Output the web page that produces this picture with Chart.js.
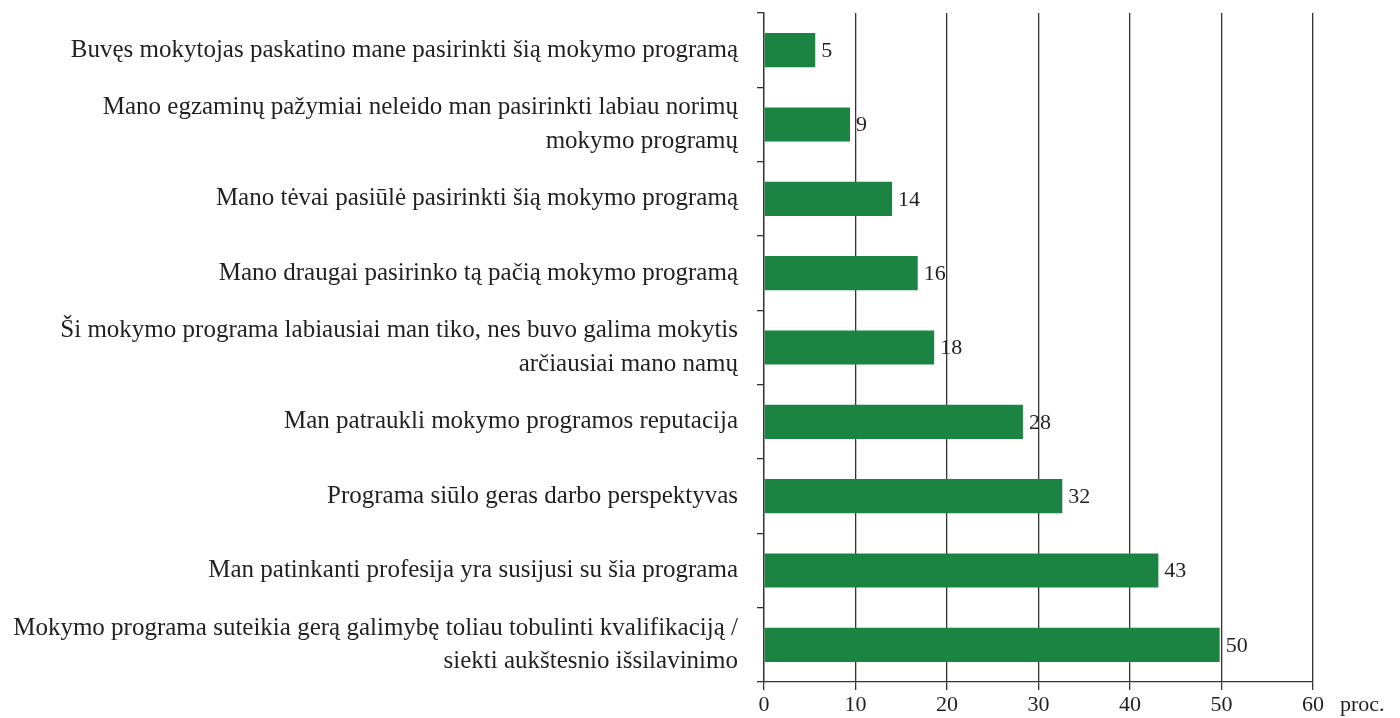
<!DOCTYPE html>
<html>
<head>
<meta charset="utf-8">
<script src="https://cdn.jsdelivr.net/npm/chart.js@4.4.0/dist/chart.umd.min.js"></script>
<style>
  html, body { margin: 0; padding: 0; background: #fff; }
  #wrap { width: 1400px; height: 718px; }
</style>
</head>
<body>
<div id="wrap"><canvas id="reasons" width="1400" height="718"></canvas></div>
<script>
// categories (top to bottom), multi-line ones are arrays
const reasons = [
  'Buvęs mokytojas paskatino mane pasirinkti šią mokymo programą',
  ['Mano egzaminų pažymiai neleido man pasirinkti labiau norimų', 'mokymo programų'],
  'Mano tėvai pasiūlė pasirinkti šią mokymo programą',
  'Mano draugai pasirinko tą pačią mokymo programą',
  ['Ši mokymo programa labiausiai man tiko, nes buvo galima mokytis', 'arčiausiai mano namų'],
  'Man patraukli mokymo programos reputacija',
  'Programa siūlo geras darbo perspektyvas',
  'Man patinkanti profesija yra susijusi su šia programa',
  ['Mokymo programa suteikia gerą galimybę toliau tobulinti kvalifikaciją /', 'siekti aukštesnio išsilavinimo']
];
// bar lengths
const shares = [5.6, 9.4, 14.0, 16.8, 18.6, 28.3, 32.6, 43.1, 49.8];
// printed value labels
const shareLabels = ['5', '9', '14', '16', '18', '28', '32', '43', '50'];
const xTicks = [0, 10, 20, 30, 40, 50, 60];
const unitLabel = 'proc.';

const textColor = '#231f20';
const barColor = 'rgb(28, 132, 66)';
const serif = '"Liberation Serif", "DejaVu Serif", serif';

// value labels at the end of each bar + "proc." after the axis
const valueLabels = {
  id: 'valueLabels',
  afterDatasetsDraw(chart) {
    const ctx = chart.ctx;
    const meta = chart.getDatasetMeta(0);
    ctx.save();
    ctx.font = '22px ' + serif;
    ctx.fillStyle = textColor;
    ctx.textAlign = 'left';
    ctx.textBaseline = 'middle';
    meta.data.forEach((bar, i) => {
      ctx.fillText(shareLabels[i], bar.x + 6, bar.y + 1);
    });
    const xs = chart.scales.x;
    ctx.textBaseline = 'top';
    ctx.fillText(unitLabel, xs.right + 27, xs.top + 12);
    ctx.restore();
  }
};

new Chart(document.getElementById('reasons'), {
  type: 'bar',
  data: {
    labels: reasons,
    datasets: [{
      data: shares,
      backgroundColor: barColor,
      borderWidth: 0,
      categoryPercentage: 1,
      barPercentage: 0.46
    }]
  },
  options: {
    indexAxis: 'y',
    responsive: false,
    animation: false,
    layout: { padding: { top: 13, right: 87, bottom: 0, left: 0 } },
    plugins: {
      legend: { display: false },
      tooltip: { enabled: false }
    },
    scales: {
      x: {
        min: 0,
        max: 60,
        afterBuildTicks(scale) {
          scale.ticks = xTicks.map(v => ({ value: v }));
        },
        afterFit(scale) {
          scale.height = 36;
          scale.paddingLeft = 0;
          scale.paddingRight = 0;
        },
        grid: {
          color: '#333',
          lineWidth: 1.3,
          tickLength: 8,
          drawTicks: true
        },
        border: { color: '#333', width: 1.3 },
        ticks: {
          color: textColor,
          font: { family: serif, size: 22 },
          padding: 2,
          maxRotation: 0
        }
      },
      y: {
        afterFit(scale) {
          scale.width = 764;
          scale.paddingTop = 0;
          scale.paddingBottom = 0;
        },
        grid: {
          offset: true,
          drawOnChartArea: false,
          color: '#333',
          lineWidth: 1.3,
          tickLength: 7
        },
        border: { color: '#333', width: 1.3 },
        ticks: {
          color: textColor,
          font: { family: serif, size: 25, lineHeight: 1.35 },
          padding: 19,
          autoSkip: false
        }
      }
    }
  },
  plugins: [valueLabels]
});
</script>
</body>
</html>
